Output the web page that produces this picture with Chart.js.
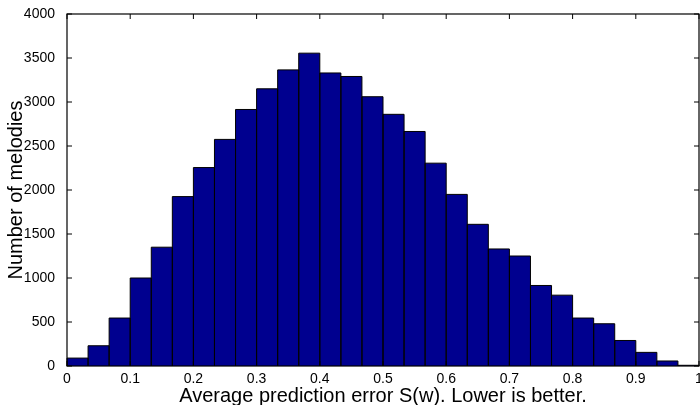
<!DOCTYPE html>
<html>
<head>
<meta charset="utf-8">
<script src="https://cdn.jsdelivr.net/npm/chart.js@4/dist/chart.umd.min.js"></script>
<style>
  html, body { margin: 0; padding: 0; background: #ffffff; }
  #wrap { width: 700px; height: 405px; }
</style>
</head>
<body>
<div id="wrap"><canvas id="c" width="700" height="405"></canvas></div>
<script>
// Histogram bins (centers of 30 bins spanning 0..1)
const binCenters = [0.0167, 0.05, 0.0833, 0.1167, 0.15, 0.1833, 0.2167, 0.25, 0.2833, 0.3167,
                    0.35, 0.3833, 0.4167, 0.45, 0.4833, 0.5167, 0.55, 0.5833, 0.6167, 0.65,
                    0.6833, 0.7167, 0.75, 0.7833, 0.8167, 0.85, 0.8833, 0.9167, 0.95, 0.9833];
// Number of melodies per bin
const counts = [90, 230, 545, 1000, 1350, 1925, 2255, 2575, 2915, 3150,
                3365, 3555, 3330, 3290, 3060, 2860, 2665, 2305, 1950, 1610,
                1330, 1250, 915, 805, 545, 480, 290, 155, 57, 8];
// Axis tick settings
const xTickMin = 0, xTickMax = 1, xTickStep = 0.1;
const yTickMin = 0, yTickMax = 4000, yTickStep = 500;

const xTitle = 'Average prediction error S(w). Lower is better.';
const yTitle = 'Number of melodies';

const FONT = '"Liberation Sans", Arial, Helvetica, sans-serif';

const boxPlugin = {
  id: 'matlabBox',
  afterDatasetsDraw(chart) {
    const ctx = chart.ctx;
    const meta = chart.getDatasetMeta(0);
    ctx.save();
    ctx.strokeStyle = '#000000';
    ctx.lineWidth = 1;
    meta.data.forEach(el => {
      const p = el.getProps(['x', 'y', 'base', 'width'], true);
      const x0 = p.x - p.width / 2, x1 = p.x + p.width / 2;
      ctx.beginPath();
      ctx.moveTo(x0, p.base);
      ctx.lineTo(x0, p.y);
      ctx.lineTo(x1, p.y);
      ctx.lineTo(x1, p.base);
      ctx.stroke();
    });
    const a = chart.chartArea;
    const xs = chart.scales.xAxis, ys = chart.scales.y;
    const tl = 5;
    ctx.beginPath();
    xs.ticks.forEach(t => {
      const px = xs.getPixelForValue(t.value);
      ctx.moveTo(px, a.top); ctx.lineTo(px, a.top + tl);
      ctx.moveTo(px, a.bottom); ctx.lineTo(px, a.bottom - tl);
    });
    ys.ticks.forEach(t => {
      const py = ys.getPixelForValue(t.value);
      ctx.moveTo(a.left, py); ctx.lineTo(a.left + tl, py);
      ctx.moveTo(a.right, py); ctx.lineTo(a.right - tl, py);
    });
    ctx.stroke();
    ctx.lineWidth = 1.2;
    ctx.strokeRect(a.left, a.top, a.right - a.left, a.bottom - a.top);
    ctx.restore();
  }
};

new Chart(document.getElementById('c'), {
  type: 'bar',
  data: {
    labels: binCenters,
    datasets: [{
      data: counts,
      backgroundColor: '#00008f',
      borderWidth: 0,
      barPercentage: 1.0,
      categoryPercentage: 1.0,
      inflateAmount: 0
    }]
  },
  options: {
    responsive: false,
    animation: false,
    devicePixelRatio: 1,
    layout: { padding: { left: 0, top: 14, right: 1, bottom: 0 } },
    plugins: { legend: { display: false }, tooltip: { enabled: false } },
    scales: {
      x: {
        type: 'category',
        display: false,
        offset: true
      },
      xAxis: {
        type: 'linear',
        position: 'bottom',
        offset: false,
        min: xTickMin,
        max: xTickMax,
        grid: { display: false, offset: false },
        border: { display: false },
        ticks: {
          stepSize: xTickStep,
          color: '#000000',
          font: { family: FONT, size: 14 },
          padding: -3,
          maxRotation: 0,
          autoSkip: false,
          callback: v => String(Number(v.toFixed(1)))
        },
        title: {
          display: true,
          text: xTitle,
          color: '#000000',
          font: { family: FONT, size: 20, lineHeight: 1.2 },
          padding: { top: 0, bottom: -3 }
        },
        afterFit(scale) { scale.height = 39; scale.paddingLeft = 0; scale.paddingRight = 0; }
      },
      y: {
        min: yTickMin,
        max: yTickMax,
        grid: { display: false },
        border: { display: false },
        ticks: {
          stepSize: yTickStep,
          color: '#000000',
          font: { family: FONT, size: 14 },
          padding: 4,
          callback: v => String(v)
        },
        title: {
          display: true,
          text: yTitle,
          color: '#000000',
          font: { family: FONT, size: 20, lineHeight: 1.2 },
          padding: { top: 4, bottom: 0 }
        },
        afterFit(scale) { scale.width = 67; scale.paddingTop = 0; scale.paddingBottom = 0; }
      }
    }
  },
  plugins: [boxPlugin]
});
</script>
</body>
</html>
